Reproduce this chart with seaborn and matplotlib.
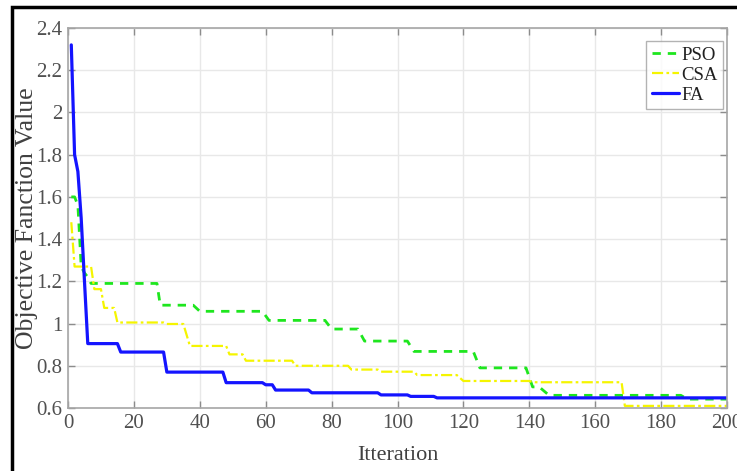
import matplotlib
matplotlib.use("Agg")
import matplotlib.pyplot as plt
import seaborn as sns
import pandas as pd
from matplotlib.patches import Rectangle

# ---- data ----
pso_iter = [1, 2, 3, 4, 5, 6, 7, 27, 28, 38, 40, 59, 61, 78, 80, 88, 90, 103, 105,
            123, 125, 139, 141, 143, 146, 186, 188, 200]
pso_val = [1.60, 1.60, 1.56, 1.27, 1.24, 1.22, 1.19, 1.19, 1.087, 1.087, 1.058, 1.058,
           1.015, 1.015, 0.974, 0.974, 0.917, 0.917, 0.868, 0.868, 0.79, 0.79, 0.70,
           0.70, 0.66, 0.66, 0.642, 0.642]

csa_iter = [1, 2, 7, 8, 10, 11, 14, 15, 29, 30, 35, 37, 48, 49, 53, 54, 68, 69, 85, 86,
            94, 95, 105, 106, 118, 120, 140, 141, 168, 169, 200]
csa_val = [1.48, 1.27, 1.27, 1.163, 1.163, 1.074, 1.074, 1.005, 1.005, 0.998, 0.998,
           0.894, 0.894, 0.854, 0.854, 0.824, 0.824, 0.80, 0.80, 0.782, 0.782, 0.772,
           0.772, 0.756, 0.756, 0.728, 0.728, 0.722, 0.722, 0.61, 0.61]

fa_iter = [1, 2, 3, 4, 5, 6, 15, 16, 29, 30, 47, 48, 59, 60, 62, 63, 73, 74, 94, 95,
           103, 104, 111, 112, 200]
fa_val = [2.32, 1.80, 1.72, 1.50, 1.20, 0.905, 0.905, 0.865, 0.865, 0.77, 0.77, 0.72,
          0.72, 0.71, 0.71, 0.685, 0.685, 0.672, 0.672, 0.662, 0.662, 0.655, 0.655,
          0.648, 0.648]

x_ticks = [0, 20, 40, 60, 80, 100, 120, 140, 160, 180, 200]
y_ticks = [0.6, 0.8, 1.0, 1.2, 1.4, 1.6, 1.8, 2.0, 2.2, 2.4]
y_tick_labels = ["0.6", "0.8", "1", "1.2", "1.4", "1.6", "1.8", "2", "2.2", "2.4"]

# ---- style ----
sns.set_style("white")
plt.rcParams["font.family"] = ["Liberation Serif", "DejaVu Serif"]

fig = plt.figure(figsize=(7.37, 4.71), dpi=100)
ax = fig.add_axes([68 / 737, 63 / 471, 659 / 737, 380 / 471])

sns.lineplot(x=pso_iter, y=pso_val, ax=ax, color="#1ee61e", linewidth=2.0,
             linestyle=(0, (3, 2.5)), label="PSO")
sns.lineplot(x=csa_iter, y=csa_val, ax=ax, color="#f5f500", linewidth=1.6,
             linestyle=(0, (5, 1.5, 1.2, 1.5)), label="CSA")
sns.lineplot(x=fa_iter, y=fa_val, ax=ax, color="#1414ff", linewidth=2.3,
             label="FA")

ax.set_xlim(0, 200)
ax.set_ylim(0.6, 2.4)
ax.set_xticks(x_ticks)
ax.set_yticks(y_ticks)
ax.set_yticklabels(y_tick_labels)
ax.grid(True, color="#e8e8e8", linewidth=1.0)
ax.set_axisbelow(True)

for side in ["left", "right", "top", "bottom"]:
    ax.spines[side].set_visible(True)
    ax.spines[side].set_color("#a6a6a6")
    ax.spines[side].set_linewidth(1.2)

ax.tick_params(axis="both", which="both", direction="in", length=5, width=1,
               color="#8c8c8c", labelsize=15, labelcolor="#505050",
               top=True, right=True, bottom=True, left=True, pad=4)

ax.set_xlabel("Itteration", fontsize=16, color="#404040")
ax.xaxis.set_label_coords(0.5, -(455 - 408) / 380)
ax.set_ylabel("Objective Fanction Value", fontsize=18.5, color="#404040")
ax.yaxis.set_label_coords(-(68 - 27) / 659, 0.5)
ax.yaxis.label.set_verticalalignment("center")
ax.xaxis.label.set_verticalalignment("center")

leg = ax.legend(loc="upper right", bbox_to_anchor=(0.994, 0.966), fontsize=13.5,
                frameon=True, fancybox=False, handlelength=1.45, handletextpad=0.1,
                borderpad=0.3, labelspacing=0.15, borderaxespad=0.0)
leg.get_frame().set_edgecolor("#a0a0a0")
leg.get_frame().set_linewidth(1.0)
for t in leg.get_texts():
    t.set_color("#202020")

# outer black frame (top and left visible, rest cropped)
fig.patches.append(Rectangle((12 / 737, -0.2), 1.2, (471 - 7) / 471 + 0.2,
                             transform=fig.transFigure, fill=False,
                             edgecolor="black", linewidth=2.5, zorder=10))

fig.savefig("out.png", dpi=100)
